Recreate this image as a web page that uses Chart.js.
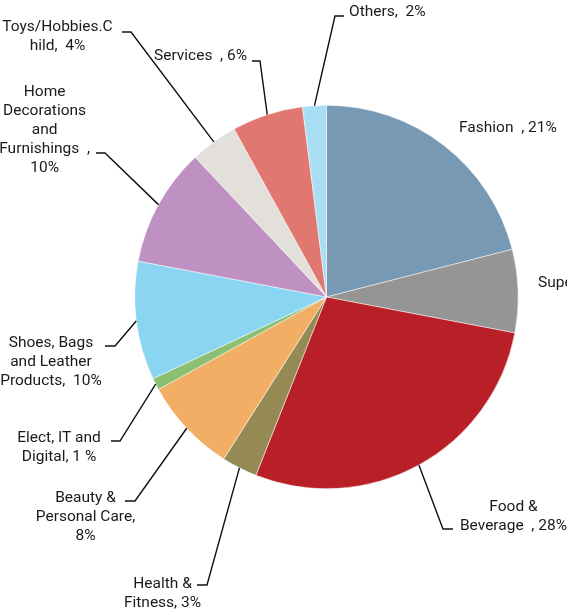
<!DOCTYPE html>
<html>
<head>
<meta charset="utf-8">
<script src="https://cdn.jsdelivr.net/npm/chart.js@4"></script>
<style>
  html, body { margin: 0; padding: 0; background: #fff; }
  #wrap { width: 567px; height: 611px; }
</style>
</head>
<body>
<div id="wrap"><canvas id="shareChart" width="567" height="611"></canvas></div>
<script>
// Share of sales by category, clockwise from 12 o'clock
const categories = ['Fashion', 'Supermarket', 'Food & Beverage', 'Health & Fitness',
  'Beauty & Personal Care', 'Elect, IT and Digital', 'Shoes, Bags and Leather Products',
  'Home Decorations and Furnishings', 'Toys/Hobbies.Child', 'Services', 'Others'];
const shares = [21, 7, 28, 3, 8, 1, 10, 10, 4, 6, 2];
const sliceColors = ['#7899b4', '#959596', '#b81f27', '#958a54', '#f3ae65', '#8dbf72',
  '#89d5f2', '#be91c2', '#e3e0dc', '#e07770', '#a8def3'];
// wrapped label text, {v} is replaced with the share
const labelLines = [
  ['Fashion  , {v}%'],
  ['Supermarket  , {v}%'],
  ['Food &', 'Beverage  , {v}%'],
  ['Health &', 'Fitness, {v}%'],
  ['Beauty &', 'Personal Care,', '{v}%'],
  ['Elect, IT and', 'Digital, {v} %'],
  ['Shoes, Bags', 'and Leather', 'Products,  {v}%'],
  ['Home', 'Decorations', 'and', 'Furnishings  ,', '{v}%'],
  ['Toys/Hobbies.C', 'hild,  {v}%'],
  ['Services  , {v}%'],
  ['Others,  {v}%']
];

// where each label sits: text anchor, alignment, and leader elbow/end (null = no leader)
const labelLayout = [
  { x: 459, y: 128, align: 'left', elbow: null },
  { x: 538, y: 283, align: 'left', elbow: null },
  { x: 513.5, y: 507, align: 'center', elbow: [443, 529], end: [453, 529] },
  { x: 162.5, y: 584, align: 'center', elbow: [207, 585], end: [197, 585] },
  { x: 85.5, y: 498, align: 'center', elbow: [135, 501], end: [125, 501] },
  { x: 59, y: 438, align: 'center', elbow: [120, 441], end: [111, 441] },
  { x: 51, y: 343, align: 'center', elbow: [115, 346], end: [105, 346] },
  { x: 44.6, y: 92, align: 'center', elbow: [105, 153], end: [96, 153] },
  { x: 57.5, y: 27, align: 'center', elbow: [131, 32], end: [122, 32] },
  { x: 154, y: 56, align: 'left', elbow: [260, 61], end: [252, 61] },
  { x: 349, y: 12, align: 'left', elbow: [335, 16], end: [344, 16] }
];
const lineGap = 19;

const calloutPlugin = {
  id: 'callouts',
  afterDraw(chart) {
    const ctx = chart.ctx;
    const arcs = chart.getDatasetMeta(0).data;
    ctx.save();
    ctx.strokeStyle = '#111';
    ctx.lineWidth = 1.4;
    ctx.fillStyle = '#1a1a1a';
    ctx.font = '15.5px Roboto, "Noto Sans", sans-serif';
    ctx.textBaseline = 'middle';
    arcs.forEach((arc, i) => {
      const lay = labelLayout[i];
      if (lay.elbow) {
        const mid = (arc.startAngle + arc.endAngle) / 2;
        const px = arc.x + Math.cos(mid) * arc.outerRadius;
        const py = arc.y + Math.sin(mid) * arc.outerRadius;
        ctx.beginPath();
        ctx.moveTo(px, py);
        ctx.lineTo(lay.elbow[0], lay.elbow[1]);
        ctx.lineTo(lay.end[0], lay.end[1]);
        ctx.stroke();
      }
      ctx.textAlign = lay.align;
      labelLines[i].forEach((t, k) => {
        ctx.fillText(t.replace('{v}', shares[i]), lay.x, lay.y + k * lineGap);
      });
    });
    ctx.restore();
  }
};

new Chart(document.getElementById('shareChart'), {
  type: 'pie',
  data: {
    labels: categories,
    datasets: [{
      data: shares,
      backgroundColor: sliceColors,
      borderColor: '#ffffff',
      borderWidth: 0.5
    }]
  },
  options: {
    responsive: false,
    animation: false,
    layout: { padding: { top: 105, bottom: 122, left: 134.5, right: 48.5 } },
    plugins: {
      legend: { display: false },
      tooltip: { enabled: false }
    }
  },
  plugins: [calloutPlugin]
});
</script>
</body>
</html>
